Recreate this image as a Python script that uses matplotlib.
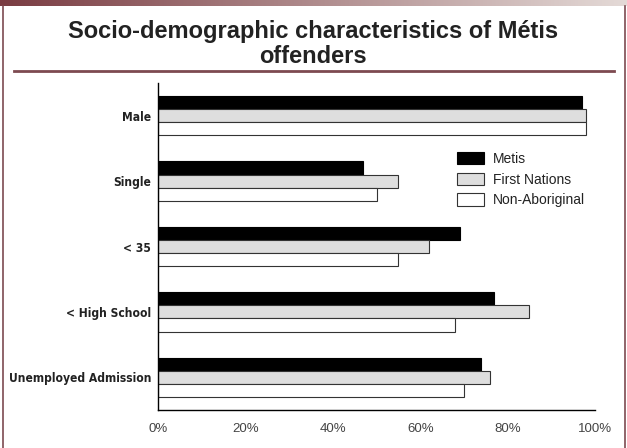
import numpy as np
import matplotlib
matplotlib.use("Agg")
import matplotlib.pyplot as plt
from matplotlib import font_manager
from matplotlib.font_manager import FontProperties
from matplotlib.lines import Line2D

# 数据
categories = ["Male", "Single", "< 35", "< High School", "Unemployed Admission"]
series_names = ["Metis", "First Nations", "Non-Aboriginal"]
metis = [97, 47, 69, 77, 74]
first_nations = [98, 55, 62, 85, 76]
non_aboriginal = [98, 50, 55, 68, 70]
x_ticks = [0, 20, 40, 60, 80, 100]
x_tick_labels = ["0%", "20%", "40%", "60%", "80%", "100%"]
title = "Socio-demographic characteristics of Métis\noffenders"

plt.rcParams["font.family"] = ["Liberation Sans", "DejaVu Sans"]

# 找一个窄体粗体字体，找不到就用 Liberation Sans 粗体
cond = None
for f in font_manager.fontManager.ttflist:
    fn = f.fname.lower()
    if ("narrow" in fn or "condensed" in fn) and "bold" in fn and "oblique" not in fn \
            and "italic" not in fn:
        if cond is None or "liberation" in fn:
            cond = f.fname
if cond is not None:
    cat_font = FontProperties(fname=cond, size=10)
else:
    cat_font = FontProperties(family="Liberation Sans", weight="bold", size=10)

W, H = 627, 448
fig = plt.figure(figsize=(W / 100, H / 100), dpi=100)
fig.patch.set_facecolor("white")

# 让最长的类别标签宽约 141 像素
renderer = fig.canvas.get_renderer()
probe = fig.text(0, 0, max(categories, key=len), fontproperties=cat_font)
w = probe.get_window_extent(renderer).width
probe.remove()
cat_font.set_size(10 * 141 / w)

# 顶部渐变条
strip = fig.add_axes([0, 1 - 6 / H, 1, 6 / H])
c0 = np.array([122, 60, 66]) / 255
c1 = np.array([228, 218, 215]) / 255
t = np.linspace(0, 1, 256)[None, :, None]
grad = c0 + (c1 - c0) * t
strip.imshow(grad, aspect="auto", extent=[0, 1, 0, 1])
strip.axis("off")

maroon = "#7d4a50"
# 左右边框
fig.add_artist(Line2D([2.5 / W, 2.5 / W], [0, 1 - 6 / H], color=maroon, lw=1.2,
                      transform=fig.transFigure))
fig.add_artist(Line2D([624.5 / W, 624.5 / W], [0, 1 - 6 / H], color=maroon, lw=1.2,
                      transform=fig.transFigure))
# 标题下横线
fig.add_artist(Line2D([14 / W, 614 / W], [1 - 71 / H, 1 - 71 / H], color=maroon, lw=2.0,
                      transform=fig.transFigure))

# 标题
fig.text(313 / W, 1 - 20 / H, title, ha="center", va="top", fontsize=17,
         fontweight="bold", color="#222222", linespacing=1.1)

# 主图
ax = fig.add_axes([158 / W, 38 / H, (595 - 158) / W, (410 - 83) / H])
y = np.arange(len(categories))
h = 0.2
ax.barh(y - h, metis, height=h, color="black", edgecolor="black", lw=0.8, label=series_names[0])
ax.barh(y, first_nations, height=h, color="#dedede", edgecolor="#333333", lw=0.8,
        label=series_names[1])
ax.barh(y + h, non_aboriginal, height=h, color="white", edgecolor="#333333", lw=0.8,
        label=series_names[2])

ax.set_xlim(0, 100)
ax.set_ylim(len(categories) - 0.5, -0.5)
ax.set_xticks(x_ticks)
ax.set_xticklabels(x_tick_labels, fontsize=9.5, color="#444444")
ax.set_yticks(y)
ax.set_yticklabels(categories, fontproperties=cat_font, color="#222222")
ax.tick_params(axis="both", length=0)
ax.tick_params(axis="x", pad=9)
ax.tick_params(axis="y", pad=5)
for s in ["top", "right"]:
    ax.spines[s].set_visible(False)
for s in ["left", "bottom"]:
    ax.spines[s].set_linewidth(1.0)
    ax.spines[s].set_color("black")

ax.legend(loc="upper left", bbox_to_anchor=(456.7 / W, 1 - 151.7 / H),
          bbox_transform=fig.transFigure, frameon=False, fontsize=10,
          handlelength=2.0, handleheight=1.0, labelspacing=0.49, handletextpad=0.63,
          borderpad=0, borderaxespad=0, labelcolor="#222222")

fig.savefig("out.png", dpi=100)
